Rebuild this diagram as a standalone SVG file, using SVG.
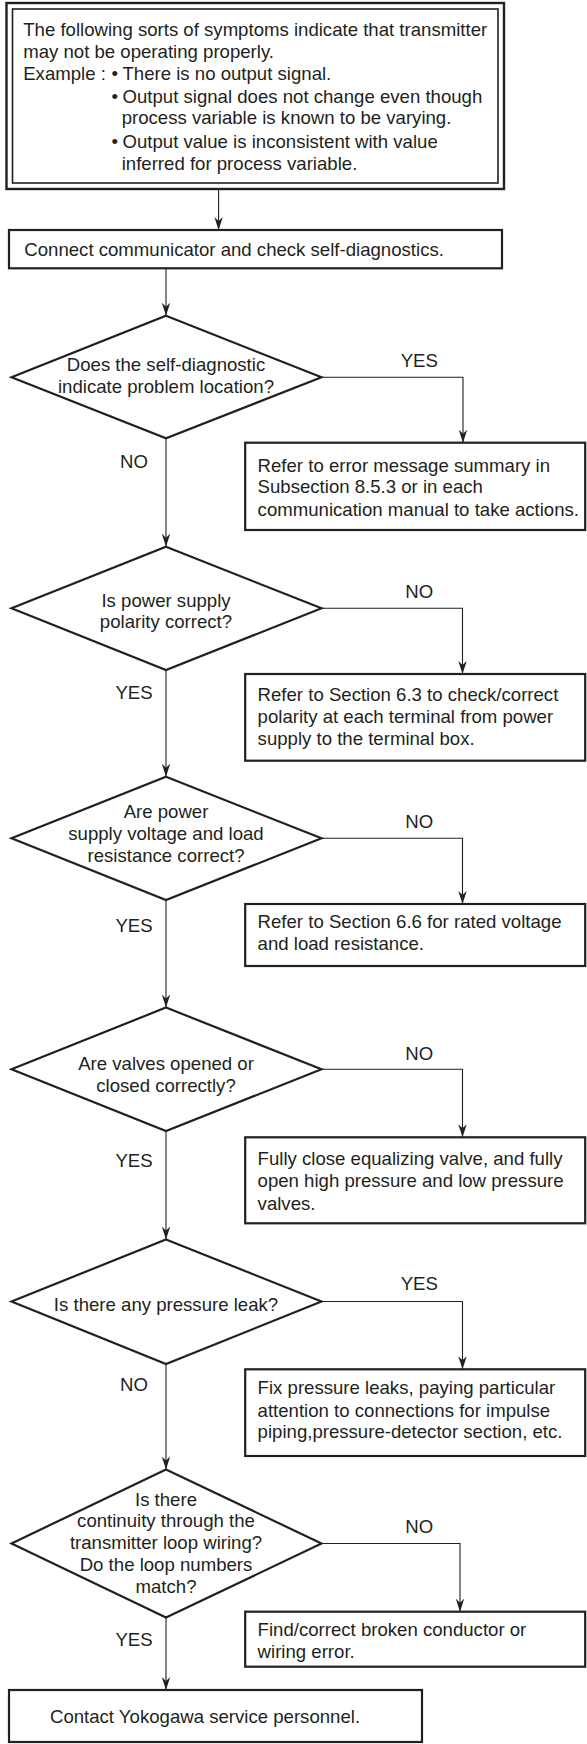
<svg xmlns="http://www.w3.org/2000/svg" width="587" height="1744" viewBox="0 0 587 1744">
<style>
  text { font-family: "Liberation Sans", Arial, sans-serif; font-size: 18.6px; fill: #231f20; }
  .m { text-anchor: middle; }
  .shape { fill: #ffffff; stroke: #231f20; stroke-width: 2.2; }
  .conn { fill: none; stroke: #231f20; stroke-width: 1.1; }
</style>
<defs>
  <marker id="arr" markerUnits="userSpaceOnUse" markerWidth="14" markerHeight="10" viewBox="-13 -5 14 10" refX="0" refY="0" orient="auto">
    <path d="M0,0 L-13,-4.2 L-9,0 L-13,4.2 Z" fill="#231f20"/>
  </marker>
</defs>
<rect width="587" height="1744" fill="#ffffff"/>

<g id="connectors">
  <path class="conn" d="M218.6,189 V230" marker-end="url(#arr)"/>
  <path class="conn" d="M166,268.3 V315.7" marker-end="url(#arr)"/>
  <path class="conn" d="M321.5,377.3 H463 V442.7" marker-end="url(#arr)"/>
  <path class="conn" d="M166,438.3 V546.7" marker-end="url(#arr)"/>
  <path class="conn" d="M321.5,608.3 H462.5 V674" marker-end="url(#arr)"/>
  <path class="conn" d="M166,670 V776.7" marker-end="url(#arr)"/>
  <path class="conn" d="M321.5,838.3 H462.5 V904" marker-end="url(#arr)"/>
  <path class="conn" d="M166,900 V1007.5" marker-end="url(#arr)"/>
  <path class="conn" d="M321.5,1069.3 H462.5 V1137.3" marker-end="url(#arr)"/>
  <path class="conn" d="M166,1131 V1239.5" marker-end="url(#arr)"/>
  <path class="conn" d="M321.5,1301.5 H462.5 V1369.3" marker-end="url(#arr)"/>
  <path class="conn" d="M166,1364 V1469.5" marker-end="url(#arr)"/>
  <path class="conn" d="M321.5,1543.5 H460 V1611.7" marker-end="url(#arr)"/>
  <path class="conn" d="M166,1617.5 V1690" marker-end="url(#arr)"/>
  <text class="m" x="419.3" y="367">YES</text>
  <text class="m" x="134" y="468.3">NO</text>
  <text class="m" x="419.3" y="598">NO</text>
  <text class="m" x="134" y="699.3">YES</text>
  <text class="m" x="419.3" y="828">NO</text>
  <text class="m" x="134" y="931.7">YES</text>
  <text class="m" x="419.3" y="1060">NO</text>
  <text class="m" x="134" y="1166.7">YES</text>
  <text class="m" x="419.3" y="1290">YES</text>
  <text class="m" x="134" y="1390.7">NO</text>
  <text class="m" x="419.3" y="1533.3">NO</text>
  <text class="m" x="134" y="1646">YES</text>
</g>

<g id="symptoms">
  <rect x="6.5" y="3" width="497.5" height="186" fill="#ffffff" stroke="#231f20" stroke-width="2.4"/>
  <rect x="12.5" y="9" width="485.5" height="174" fill="none" stroke="#231f20" stroke-width="1.6"/>
  <text x="23.2" y="36">The following sorts of symptoms indicate that transmitter</text>
  <text x="23.2" y="58.3">may not be operating properly.</text>
  <text x="23.2" y="80">Example :</text>
  <text x="111.5" y="80">•</text>
  <text x="122.5" y="80">There is no output signal.</text>
  <text x="111.5" y="102.7">•</text>
  <text x="122.5" y="102.7">Output signal does not change even though</text>
  <text x="121.7" y="124.3">process variable is known to be varying.</text>
  <text x="111.5" y="147.7">•</text>
  <text x="122.5" y="147.7">Output value is inconsistent with value</text>
  <text x="121.7" y="170">inferred for process variable.</text>
</g>

<g id="connect">
  <rect class="shape" x="9" y="230" width="493" height="38.3"/>
  <text x="24.3" y="256">Connect communicator and check self-diagnostics.</text>
</g>

<g id="d1">
  <polygon class="shape" points="166,315.7 321.5,377.3 166,438.3 11.5,377.3"/>
  <text class="m" x="166" y="370.7">Does the self-diagnostic</text>
  <text class="m" x="166" y="393.3">indicate problem location?</text>
</g>
<g id="b1">
  <rect class="shape" x="245.2" y="442.7" width="340" height="87.3"/>
  <text x="257.6" y="471.7">Refer to error message summary in</text>
  <text x="257.6" y="493.3">Subsection 8.5.3 or in each</text>
  <text x="257.6" y="516">communication manual to take actions.</text>
</g>

<g id="d2">
  <polygon class="shape" points="166,546.7 321.5,608.3 166,670 11.5,608.3"/>
  <text class="m" x="166" y="606.7">Is power supply</text>
  <text class="m" x="166" y="628">polarity correct?</text>
</g>
<g id="b2">
  <rect class="shape" x="245.2" y="674" width="340" height="86.7"/>
  <text x="257.6" y="700.7">Refer to Section 6.3 to check/correct</text>
  <text x="257.6" y="722.7">polarity at each terminal from power</text>
  <text x="257.6" y="745">supply to the terminal box.</text>
</g>

<g id="d3">
  <polygon class="shape" points="166,776.7 321.5,838.3 166,900 11.5,838.3"/>
  <text class="m" x="166" y="817.5">Are power</text>
  <text class="m" x="166" y="839.5">supply voltage and load</text>
  <text class="m" x="166" y="861.7">resistance correct?</text>
</g>
<g id="b3">
  <rect class="shape" x="245.2" y="904" width="340" height="62"/>
  <text x="257.6" y="928.3">Refer to Section 6.6 for rated voltage</text>
  <text x="257.6" y="950">and load resistance.</text>
</g>

<g id="d4">
  <polygon class="shape" points="166,1007.5 321.5,1069.3 166,1131 11.5,1069.3"/>
  <text class="m" x="166" y="1070">Are valves opened or</text>
  <text class="m" x="166" y="1092.3">closed correctly?</text>
</g>
<g id="b4">
  <rect class="shape" x="245.2" y="1137.3" width="340" height="86"/>
  <text x="257.6" y="1165">Fully close equalizing valve, and fully</text>
  <text x="257.6" y="1187.3">open high pressure and low pressure</text>
  <text x="257.6" y="1209.5">valves.</text>
</g>

<g id="d5">
  <polygon class="shape" points="166,1239.5 321.5,1301.5 166,1364 11.5,1301.5"/>
  <text class="m" x="166" y="1310.5">Is there any pressure leak?</text>
</g>
<g id="b5">
  <rect class="shape" x="245.2" y="1369.3" width="340" height="86.7"/>
  <text x="257.6" y="1394">Fix pressure leaks, paying particular</text>
  <text x="257.6" y="1416.7">attention to connections for impulse</text>
  <text x="257.6" y="1438.3">piping,pressure-detector section, etc.</text>
</g>

<g id="d6">
  <polygon class="shape" points="166,1469.5 321.5,1543.5 166,1617.5 11.5,1543.5"/>
  <text class="m" x="166" y="1505.5">Is there</text>
  <text class="m" x="166" y="1527.3">continuity through the</text>
  <text class="m" x="166" y="1549">transmitter loop wiring?</text>
  <text class="m" x="166" y="1570.7">Do the loop numbers</text>
  <text class="m" x="166" y="1592.5">match?</text>
</g>
<g id="b6">
  <rect class="shape" x="245.2" y="1611.7" width="340" height="55"/>
  <text x="257.6" y="1636">Find/correct broken conductor or</text>
  <text x="257.6" y="1657.5">wiring error.</text>
</g>

<g id="contact">
  <rect class="shape" x="9" y="1690" width="413" height="52"/>
  <text class="m" x="205" y="1723.3">Contact Yokogawa service personnel.</text>
</g>
</svg>
